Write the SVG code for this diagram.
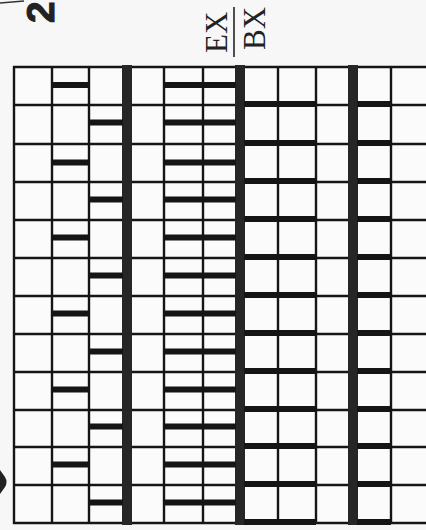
<svg xmlns="http://www.w3.org/2000/svg" width="426" height="530" viewBox="0 0 426 530">
  <style>
    .bg { fill: #f7f7f7; }
    .h { stroke: #151515; stroke-width: 2.6; }
    .v { stroke: #151515; stroke-width: 2.4; }
    .thick { fill: #262626; }
    .bar { fill: #151515; }
    .lbl { font-family: "Liberation Serif", "Times New Roman", serif; font-size: 31px; fill: #222; }
    .num { font-family: "Liberation Sans", Arial, sans-serif; font-weight: bold; font-size: 39px; fill: #222; stroke: #222; stroke-width: 1; }
  </style>
  <rect class="bg" x="0" y="0" width="426" height="530"/>

  <g id="labels">
    <text class="num" transform="translate(54,23) rotate(-90)">2</text>
    <text class="lbl" transform="translate(227,53) rotate(-90)">EX</text>
    <line x1="234" y1="7" x2="234" y2="57" stroke="#222" stroke-width="1.6"/>
    <text class="lbl" transform="translate(265,50) rotate(-90)">BX</text>
  </g>

  <g id="marks">
    <line x1="0" y1="3" x2="24" y2="1" stroke="#333" stroke-width="1.5"/>
    <path d="M0,470 L5,477 Q8,482 5,487 L0,494 Z" fill="#222"/>
  </g>

  <g id="grid">
    <rect x="14" y="67" width="412" height="456" fill="#fbfbfb"/>
    <g id="horizontal-lines">
      <line class="h" x1="13" y1="67" x2="426" y2="67"/>
      <line class="h" x1="13" y1="105" x2="426" y2="105"/>
      <line class="h" x1="13" y1="144" x2="426" y2="144"/>
      <line class="h" x1="13" y1="182" x2="426" y2="182"/>
      <line class="h" x1="13" y1="220" x2="426" y2="220"/>
      <line class="h" x1="13" y1="258" x2="426" y2="258"/>
      <line class="h" x1="13" y1="296" x2="426" y2="296"/>
      <line class="h" x1="13" y1="334" x2="426" y2="334"/>
      <line class="h" x1="13" y1="372" x2="426" y2="372"/>
      <line class="h" x1="13" y1="410" x2="426" y2="410"/>
      <line class="h" x1="13" y1="447" x2="426" y2="447"/>
      <line class="h" x1="13" y1="485" x2="426" y2="485"/>
      <line class="h" x1="13" y1="523" x2="426" y2="523" stroke-width="3"/>
    </g>
    <g id="vertical-lines">
      <line class="v" x1="14" y1="66" x2="14" y2="524" stroke-width="3"/>
      <line class="v" x1="52" y1="67" x2="52" y2="523"/>
      <line class="v" x1="89" y1="67" x2="89" y2="523"/>
      <line class="v" x1="164" y1="67" x2="164" y2="523"/>
      <line class="v" x1="203" y1="67" x2="203" y2="523"/>
      <line class="v" x1="278" y1="67" x2="278" y2="523"/>
      <line class="v" x1="316" y1="67" x2="316" y2="523"/>
      <line class="v" x1="391" y1="67" x2="391" y2="523"/>
      <rect class="thick" x="122" y="65" width="10" height="460"/>
      <rect class="thick" x="235" y="65" width="10" height="460"/>
      <rect class="thick" x="348" y="65" width="10" height="460"/>
    </g>
  </g>

  <g id="left-bars">
    <rect class="bar" x="52" y="82" width="37" height="6"/>
    <rect class="bar" x="89" y="119.5" width="34" height="6"/>
    <rect class="bar" x="52" y="159.5" width="37" height="6"/>
    <rect class="bar" x="89" y="196.5" width="34" height="6"/>
    <rect class="bar" x="52" y="234.5" width="37" height="6"/>
    <rect class="bar" x="89" y="272.5" width="34" height="6"/>
    <rect class="bar" x="52" y="310.5" width="37" height="6"/>
    <rect class="bar" x="89" y="348.5" width="34" height="6"/>
    <rect class="bar" x="52" y="386.5" width="37" height="6"/>
    <rect class="bar" x="89" y="423.5" width="34" height="6"/>
    <rect class="bar" x="52" y="461.5" width="37" height="6"/>
    <rect class="bar" x="89" y="499.5" width="34" height="6"/>
  </g>

  <g id="middle-bars">
    <rect class="bar" x="164" y="82" width="72" height="6"/>
    <rect class="bar" x="164" y="119.5" width="72" height="6"/>
    <rect class="bar" x="164" y="159.5" width="72" height="6"/>
    <rect class="bar" x="164" y="196.5" width="72" height="6"/>
    <rect class="bar" x="164" y="234.5" width="72" height="6"/>
    <rect class="bar" x="164" y="272.5" width="72" height="6"/>
    <rect class="bar" x="164" y="310.5" width="72" height="6"/>
    <rect class="bar" x="164" y="348.5" width="72" height="6"/>
    <rect class="bar" x="164" y="386.5" width="72" height="6"/>
    <rect class="bar" x="164" y="423.5" width="72" height="6"/>
    <rect class="bar" x="164" y="461.5" width="72" height="6"/>
    <rect class="bar" x="164" y="499.5" width="72" height="6"/>
  </g>

  <g id="right-bars">
    <rect class="bar" x="244" y="101" width="72" height="6"/>
    <rect class="bar" x="357" y="101" width="34" height="6"/>
    <rect class="bar" x="244" y="140" width="72" height="6"/>
    <rect class="bar" x="357" y="140" width="34" height="6"/>
    <rect class="bar" x="244" y="178" width="72" height="6"/>
    <rect class="bar" x="357" y="178" width="34" height="6"/>
    <rect class="bar" x="244" y="216" width="72" height="6"/>
    <rect class="bar" x="357" y="216" width="34" height="6"/>
    <rect class="bar" x="244" y="254" width="72" height="6"/>
    <rect class="bar" x="357" y="254" width="34" height="6"/>
    <rect class="bar" x="244" y="292" width="72" height="6"/>
    <rect class="bar" x="357" y="292" width="34" height="6"/>
    <rect class="bar" x="244" y="330" width="72" height="6"/>
    <rect class="bar" x="357" y="330" width="34" height="6"/>
    <rect class="bar" x="244" y="368" width="72" height="6"/>
    <rect class="bar" x="357" y="368" width="34" height="6"/>
    <rect class="bar" x="244" y="406" width="72" height="6"/>
    <rect class="bar" x="357" y="406" width="34" height="6"/>
    <rect class="bar" x="244" y="443" width="72" height="6"/>
    <rect class="bar" x="357" y="443" width="34" height="6"/>
    <rect class="bar" x="244" y="481" width="72" height="6"/>
    <rect class="bar" x="357" y="481" width="34" height="6"/>
    <rect class="bar" x="244" y="519" width="72" height="6"/>
    <rect class="bar" x="357" y="519" width="34" height="6"/>
  </g>
</svg>
